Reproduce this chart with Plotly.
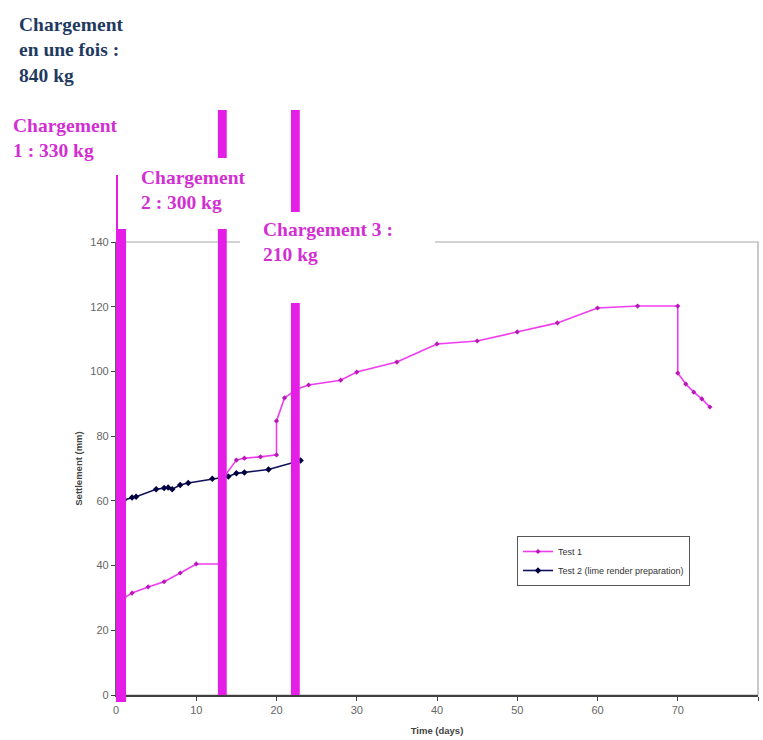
import plotly.graph_objects as go

# ---------------- data ----------------
test1_days = [1, 2, 4, 6, 8, 10, 13.5, 13.5, 15, 16, 18, 20, 20, 21, 22.5, 24, 28, 30,
              35, 40, 45, 50, 55, 60, 65, 70, 70, 71, 72, 73, 74]
test1_mm = [30, 31.5, 33.4, 35, 37.7, 40.5, 40.5, 67.5, 72.6, 73.2, 73.6, 74.2, 84.7, 91.8,
            94.5, 95.8, 97.3, 99.8, 102.9, 108.5, 109.4, 112.2, 115, 119.6, 120.2, 120.2,
            99.5, 96.1, 93.6, 91.5, 89]

test2_days = [0, 0, 1, 2, 2.5, 5, 6, 6.5, 7, 8, 9, 12, 14, 15, 16, 19, 23]
test2_mm = [48, 56, 60.3, 61, 61.3, 63.6, 64, 64.1, 63.6, 64.9, 65.5, 66.8, 67.5, 68.5,
            68.8, 69.7, 72.5]

series_names = ["Test 1", "Test 2 (lime render preparation)"]

# loading events (day span of each vertical band)
load_start = [-0.12, 12.7, 21.8]
load_end = [1.25, 13.8, 22.9]

x_ticks = [0, 10, 20, 30, 40, 50, 60, 70, 80]
y_ticks = [0, 20, 40, 60, 80, 100, 120, 140]

label_all = "Chargement<br>en une fois :<br>840 kg"
label_loads = ["Chargement<br>1 : 330 kg", "Chargement<br>2 : 300 kg", "Chargement 3 :<br>210 kg"]

# ---------------- layout helpers (pixel -> paper) ----------------
W, H = 763, 740
L, R, T, B = 116, 5, 242, 45
PW, PH = W - L - R, H - T - B


def pxx(x):
    return (x - L) / PW


def pxy(y):
    return (H - B - y) / PH


MAG = "#e41ee6"
TXT_MAG = "#d22fd2"
NAVY = "#1f3a5f"

fig = go.Figure()
fig.add_trace(go.Scatter(
    x=test1_days, y=test1_mm, name=series_names[0], mode="lines+markers",
    line=dict(color="#f03cf0", width=1.6),
    marker=dict(symbol="diamond", size=4, color="#b818b8"),
))
fig.add_trace(go.Scatter(
    x=test2_days, y=test2_mm, name=series_names[1], mode="lines+markers",
    line=dict(color="#10105a", width=1.6),
    marker=dict(symbol="diamond", size=5, color="#000040"),
))

shapes = []
# plot frame (light gray, top/right)
shapes.append(dict(type="rect", xref="paper", yref="paper", x0=0, x1=1, y0=0, y1=1,
                   line=dict(color="#a8a8a8", width=1.2), layer="below"))
# loading bands
bottoms = [pxy(702), pxy(695), pxy(695)]
for xs, xe, yb in zip(load_start, load_end, bottoms):
    shapes.append(dict(type="rect", xref="x", yref="paper", x0=xs, x1=xe,
                       y0=yb, y1=pxy(110), fillcolor=MAG, line=dict(width=0),
                       layer="above"))
# white text boxes
boxes = [(0, 135, 110, 175), (118, 258, 158, 229), (240, 435, 212, 303)]
for x0, x1, y0, y1 in boxes:
    shapes.append(dict(type="rect", xref="paper", yref="paper",
                       x0=pxx(x0), x1=pxx(x1), y0=pxy(y1), y1=pxy(y0),
                       fillcolor="white", line=dict(width=0), layer="above"))

font_serif = dict(family="Liberation Serif", size=19.5)
annotations = [
    dict(text="<b>" + label_all + "</b>", x=pxx(17), y=pxy(12),
         font=dict(font_serif, color=NAVY)),
    dict(text="<b>" + label_loads[0] + "</b>", x=pxx(11), y=pxy(113),
         font=dict(font_serif, color=TXT_MAG)),
    dict(text="<b>" + label_loads[1] + "</b>", x=pxx(139), y=pxy(165),
         font=dict(font_serif, color=TXT_MAG)),
    dict(text="<b>" + label_loads[2] + "</b>", x=pxx(261), y=pxy(217),
         font=dict(font_serif, color=TXT_MAG)),
]
for a in annotations:
    a.update(xref="paper", yref="paper", xanchor="left", yanchor="top",
             align="left", showarrow=False)

fig.update_layout(
    width=W, height=H,
    margin=dict(l=L, r=R, t=T, b=B, pad=0),
    paper_bgcolor="white", plot_bgcolor="white",
    font=dict(family="Liberation Sans", color="#666666", size=11),
    shapes=shapes, annotations=annotations,
    showlegend=True,
    legend=dict(x=pxx(517), y=pxy(536), xanchor="left", yanchor="top",
                bordercolor="#555555", borderwidth=1, bgcolor="white",
                font=dict(family="Liberation Sans", size=9, color="#333333"),
                tracegroupgap=0),
    xaxis=dict(range=[0, 80], tickvals=x_ticks, showgrid=False, zeroline=False,
               showline=True, linecolor="#404040", linewidth=1.5,
               ticks="outside", ticklen=4, tickcolor="#404040",
               tickfont=dict(size=11, color="#666666"),
               title=dict(text="<b>Time (days)</b>", font=dict(size=9.5, color="#444444"),
                          standoff=12)),
    yaxis=dict(range=[0, 140], tickvals=y_ticks, showgrid=False, zeroline=False,
               showline=True, linecolor="#606060", linewidth=1.2,
               ticks="outside", ticklen=4, tickcolor="#404040",
               tickfont=dict(size=11, color="#666666"),
               title=dict(text="<b>Settlement (mm)</b>", font=dict(size=9.5, color="#444444"),
                          standoff=6)),
)

fig.write_html("out.html", config={"displayModeBar": False},
               post_script="document.body.style.margin='0';document.body.style.overflow='hidden';")
